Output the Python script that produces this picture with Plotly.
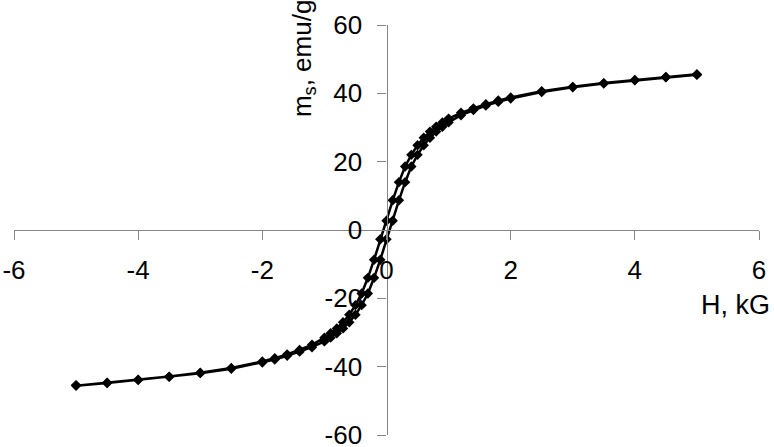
"""Hysteresis loop: specific magnetization vs applied field."""

import plotly.graph_objects as go

# descending branch, field swept from +5 kG to -5 kG
h_down = [5, 4.5, 4, 3.5, 3, 2.5, 2, 1.8, 1.6, 1.4, 1.2, 1.0, 0.9, 0.8, 0.7, 0.6,
          0.5, 0.4, 0.3, 0.2, 0.1, 0, -0.1, -0.2, -0.3, -0.4, -0.5, -0.6, -0.7,
          -0.8, -0.9, -1.0, -1.2, -1.4, -1.6, -1.8, -2, -2.5, -3, -3.5, -4, -4.5, -5]
m_down = [45.6, 44.8, 43.9, 43.0, 41.9, 40.6, 38.8, 37.9, 36.8, 35.6, 34.3, 32.6,
          31.5, 30.2, 28.8, 27.0, 24.8, 22.0, 18.6, 14.0, 8.7, 2.7, -2.7, -8.7,
          -14.0, -18.6, -22.0, -24.8, -27.0, -28.8, -30.2, -31.5, -33.6, -35.1,
          -36.4, -37.5, -38.5, -40.4, -41.8, -42.9, -43.8, -44.7, -45.4]

# ascending branch, field swept back from -5 kG to +5 kG
h_up = [-5, -4.5, -4, -3.5, -3, -2.5, -2, -1.8, -1.6, -1.4, -1.2, -1.0, -0.9, -0.8,
        -0.7, -0.6, -0.5, -0.4, -0.3, -0.2, -0.1, 0, 0.1, 0.2, 0.3, 0.4, 0.5, 0.6,
        0.7, 0.8, 0.9, 1.0, 1.2, 1.4, 1.6, 1.8, 2, 2.5, 3, 3.5, 4, 4.5, 5]
m_up = [-45.6, -44.8, -43.9, -43.0, -41.9, -40.6, -38.8, -37.9, -36.8, -35.6, -34.3,
        -32.6, -31.5, -30.2, -28.8, -27.0, -24.8, -22.0, -18.6, -14.0, -8.7, -2.7,
        2.7, 8.7, 14.0, 18.6, 22.0, 24.8, 27.0, 28.8, 30.2, 31.5, 33.6, 35.1, 36.4,
        37.5, 38.5, 40.4, 41.8, 42.9, 43.8, 44.7, 45.4]

x_ticks = [-6, -4, -2, 0, 2, 4, 6]
x_tick_text = ["-6", "-4", "-2", "0", "2", "4", "6"]
y_ticks = [-60, -40, -20, 0, 20, 40, 60]
y_tick_text = ["-60", "-40", "-20", "0", "20", "40", "60"]

FONT = "Liberation Sans, Arial, sans-serif"
AXIS_GREY = "#868686"

fig = go.Figure()
fig.add_trace(
    go.Scatter(
        x=h_down + h_up,
        y=m_down + m_up,
        mode="lines+markers",
        line={"color": "black", "width": 2.5},
        marker={"symbol": "diamond", "size": 8, "color": "black"},
        showlegend=False,
    )
)

axis_style = dict(
    anchor="free",
    position=0.5,
    showline=True,
    linecolor=AXIS_GREY,
    linewidth=1.3,
    ticks="outside",
    ticklen=9,
    tickcolor=AXIS_GREY,
    showgrid=False,
    zeroline=False,
    ticklabeloverflow="allow",
    tickfont={"family": FONT, "size": 26, "color": "black"},
    automargin=False,
)
fig.update_xaxes(range=[-6, 6], tickvals=x_ticks, ticktext=x_tick_text,
                 ticklabelstandoff=8, **axis_style)
fig.update_yaxes(range=[-60, 60], tickvals=y_ticks, ticktext=y_tick_text,
                 ticklabelstandoff=10, **axis_style)

fig.add_annotation(
    text="H, kG",
    xref="paper", yref="paper",
    x=1.018, y=0.317,
    xanchor="right", yanchor="middle",
    showarrow=False,
    font={"family": FONT, "size": 27, "color": "black"},
)
fig.add_annotation(
    text="m<sub>s</sub>, emu/g",
    xref="paper", yref="paper",
    x=0.388, y=0.917,
    xanchor="center", yanchor="middle",
    textangle=-90,
    showarrow=False,
    font={"family": FONT, "size": 26, "color": "black"},
)

fig.update_layout(
    width=774,
    height=447,
    margin={"l": 14, "r": 15, "t": 25, "b": 12},
    paper_bgcolor="white",
    plot_bgcolor="white",
)

# drop the browser's default 8px body margin so the figure fills the window
fig.write_html(
    "out.html",
    config={"displayModeBar": False},
    post_script="document.body.style.margin = '0';",
)
